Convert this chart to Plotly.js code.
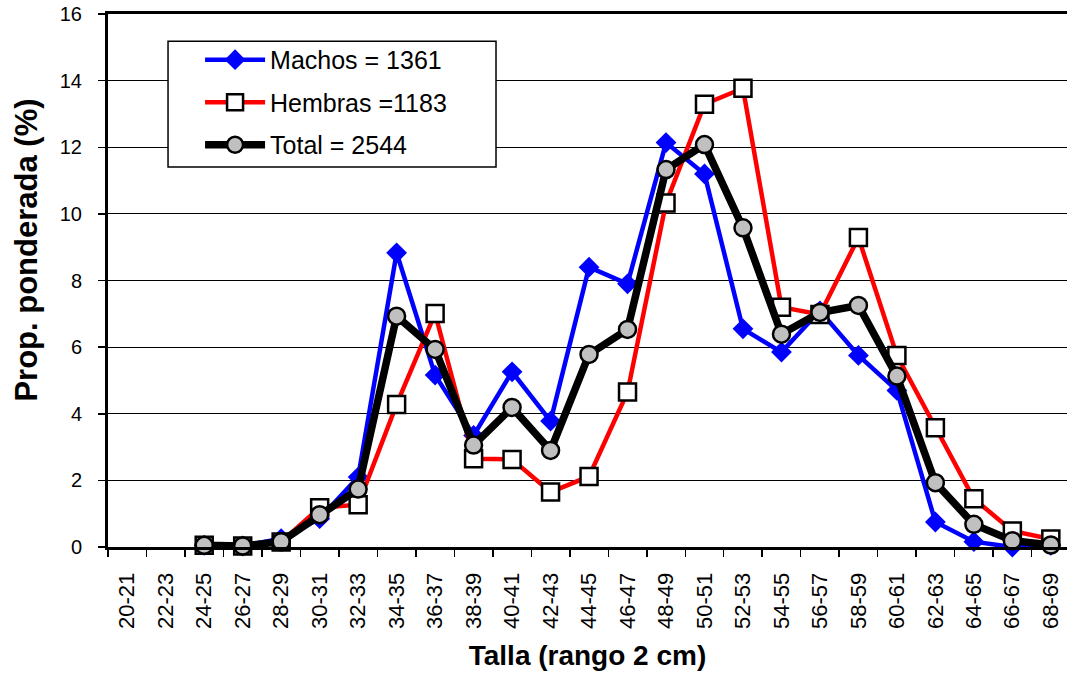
<!DOCTYPE html>
<html>
<head>
<meta charset="utf-8">
<script src="https://cdn.plot.ly/plotly-3.0.1.min.js"></script>
<style>html,body{margin:0;padding:0;background:#fff;}#chart{width:1067px;height:677px;}</style>
</head>
<body>
<div id="chart"></div>
<script>
const categories = ["20-21","22-23","24-25","26-27","28-29","30-31","32-33","34-35","36-37","38-39","40-41","42-43","44-45","46-47","48-49","50-51","52-53","54-55","56-57","58-59","60-61","62-63","64-65","66-67","68-69"];
const machos  = [null,null,0.05,0.03,0.25,0.85,2.1,8.83,5.16,3.35,5.26,3.78,8.4,7.9,12.14,11.2,6.55,5.85,7.09,5.75,4.7,0.75,0.16,0.0,0.05];
const hembras = [null,null,0.05,0.03,0.15,1.18,1.27,4.28,7.01,2.65,2.63,1.65,2.12,4.65,10.33,13.29,13.77,7.2,6.98,9.29,5.75,3.58,1.45,0.48,0.24];
const total   = [null,null,0.05,0.03,0.16,0.97,1.74,6.93,5.93,3.06,4.19,2.9,5.78,6.53,11.33,12.08,9.58,6.39,7.04,7.25,5.13,1.93,0.68,0.19,0.06];
const seriesNames = ["Machos = 1361","Hembras =1183","Total = 2544"];
const xTitle = "Talla (rango 2 cm)";
const yTitle = "Prop. ponderada (%)";

const font = "Liberation Sans, Arial, sans-serif";

const traces = [
  {x: categories, y: machos, name: seriesNames[0], legendgroup: "m", type: "scatter", mode: "lines+markers",
   line: {color: "#0000ff", width: 4.5}, marker: {symbol: "diamond", size: 16, color: "#0000ff", line: {width: 0}},
   cliponaxis: false},
  {x: categories, y: hembras, name: seriesNames[1], legendgroup: "h", type: "scatter", mode: "lines+markers",
   line: {color: "#ff0000", width: 4.5}, marker: {symbol: "square", size: 17, color: "#ffffff", line: {width: 2.5, color: "#000000"}},
   cliponaxis: false},
  {x: categories, y: total, name: seriesNames[2], legendgroup: "t", type: "scatter", mode: "lines+markers",
   line: {color: "#000000", width: 7.5}, marker: {symbol: "circle", size: 17, color: "#c0c0c0", line: {width: 2.5, color: "#000000"}},
   cliponaxis: false}
];

const layout = {
  width: 1067, height: 677,
  margin: {l: 108, r: 0, t: 14, b: 130},
  paper_bgcolor: "#ffffff", plot_bgcolor: "#ffffff",
  font: {family: font, color: "#000000"},
  showlegend: true,
  legend: {x: 0.096, y: 0.957, xanchor: "left", yanchor: "top",
    bgcolor: "rgba(0,0,0,0)", borderwidth: 0,
    font: {family: font, size: 25, color: "#000000"}, itemwidth: 60, tracegroupgap: 7},
  shapes: [{type: "rect", xref: "paper", yref: "paper", x0: 0.0626, x1: 0.4046, y0: 0.713, y1: 0.949,
    fillcolor: "#ffffff", line: {color: "#000000", width: 1.5}, layer: "above"}],
  annotations: [{text: yTitle, textangle: -90, xref: "paper", yref: "paper", x: -0.085, y: 0.557,
    xanchor: "center", yanchor: "middle", showarrow: false,
    font: {family: font, size: 31, color: "#000000", weight: "bold"}}],
  xaxis: {type: "category", categoryorder: "array", categoryarray: categories,
    range: [-0.5, 24.42], showline: true, linecolor: "#000000", linewidth: 3, mirror: true,
    ticks: "outside", tickson: "boundaries", ticklen: 7, tickwidth: 1.5, tickcolor: "#000000",
    tickangle: -90, tickfont: {family: font, size: 22, color: "#000000"}, ticklabelstandoff: 14,
    showgrid: false, zeroline: false,
    title: {text: xTitle, font: {family: font, size: 28, color: "#000000", weight: "bold"}, standoff: 18}},
  yaxis: {range: [0, 16], dtick: 2, showline: true, linecolor: "#000000", linewidth: 3,
    ticks: "outside", ticklen: 7, tickwidth: 1.5, tickcolor: "#000000",
    tickfont: {family: font, size: 20, color: "#000000"}, ticklabelstandoff: 12,
    showgrid: true, gridcolor: "#000000", gridwidth: 1, zeroline: false}
};

Plotly.newPlot("chart", traces, layout, {displayModeBar: false, staticPlot: true});
</script>
</body>
</html>
